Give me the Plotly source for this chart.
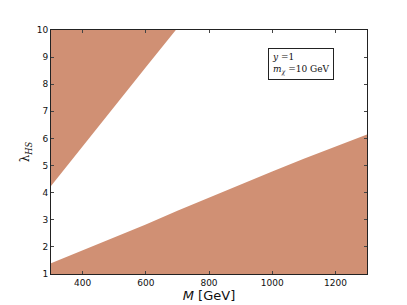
import plotly.graph_objects as go

# Boundary of the excluded region (upper-left)
upper_M = [300, 400, 500, 600, 695]
upper_lam = [4.25, 5.72, 7.18, 8.63, 10.0]

# Boundary of the excluded region (lower-right)
lower_M = [300, 400, 500, 600, 700, 800, 900, 1000, 1100, 1200, 1300]
lower_lam = [1.4, 1.87, 2.35, 2.83, 3.33, 3.82, 4.3, 4.78, 5.25, 5.7, 6.15]

x_range = [300, 1300]
y_range = [1, 10]
x_ticks = [400, 600, 800, 1000, 1200]
y_ticks = [1, 2, 3, 4, 5, 6, 7, 8, 9, 10]

fill_col = "#D09074"

fig = go.Figure()

ux = upper_M + [x_range[0]]
uy = upper_lam + [y_range[1]]
fig.add_trace(go.Scatter(x=ux, y=uy, fill="toself", fillcolor=fill_col,
                         mode="lines", line=dict(width=0, color=fill_col),
                         hoverinfo="skip", showlegend=False))

lx = lower_M + [x_range[1], x_range[0]]
ly = lower_lam + [y_range[0], y_range[0]]
fig.add_trace(go.Scatter(x=lx, y=ly, fill="toself", fillcolor=fill_col,
                         mode="lines", line=dict(width=0, color=fill_col),
                         hoverinfo="skip", showlegend=False))

axis_common = dict(showgrid=False, zeroline=False, showline=True, linecolor="#222",
                   linewidth=1, mirror="ticks", ticks="inside", ticklen=3,
                   tickcolor="#444", automargin=False,
                   tickfont=dict(family="DejaVu Sans", size=9, color="#111"))

# page body adds an 8px offset, so the figure is sized to compensate
fig.update_layout(
    width=399, height=297,
    margin=dict(l=43, r=40, t=22, b=31),
    paper_bgcolor="white", plot_bgcolor="white",
    xaxis=dict(range=x_range, tickvals=x_ticks, **axis_common,
               title=dict(text="<i>M</i> [GeV]", font=dict(family="DejaVu Sans", size=13, color="#111"),
                          standoff=3)),
    yaxis=dict(range=y_range, tickvals=y_ticks, **axis_common,
               title=dict(text="λ<sub><i>HS</i></sub>", font=dict(family="DejaVu Serif", size=12, color="#111"),
                          standoff=4)),
    annotations=[dict(
        x=0.687, y=0.926, xref="paper", yref="paper", xanchor="left", yanchor="top",
        text="<i>y</i> =1<br><i>m</i><sub><i>χ</i></sub> =10 GeV",
        showarrow=False, align="left",
        font=dict(family="DejaVu Serif", size=9, color="#111"),
        bordercolor="#222", borderwidth=1, borderpad=3, bgcolor="white")],
)

fig.write_html("out.html")
